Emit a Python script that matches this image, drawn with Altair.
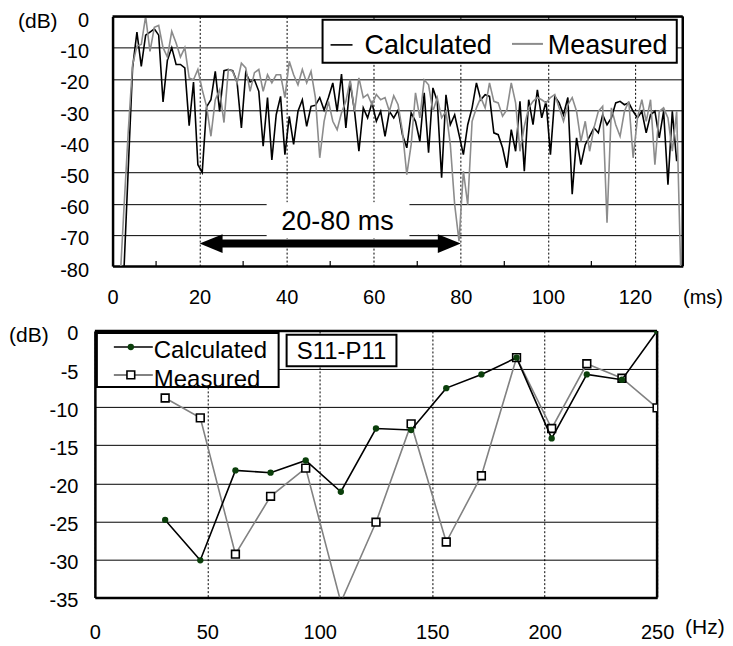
import altair as alt
import pandas as pd

FONT = "Liberation Sans"

# ---------------- top panel: level (dB) vs time (ms), one sample per ms ----------------
series_names = ["Calculated", "Measured"]
first_sample_ms = -0.4

calc_db = [
    -110, -110, -110, -82, -49, -16.5, -5, -16, -6, -5,
    -4, -6, -27.4, -14, -10, -15.4, -15.4, -16.5, -35, -21,
    -47.5, -50, -29, -26.7, -17.6, -30.4, -17.4, -17, -17.4, -21,
    -35.7, -18, -21, -20.3, -24, -41.6, -26, -46, -31.5, -25.6,
    -44.3, -32, -41, -30.4, -26.7, -35.2, -28.8, -28.5, -26, -30,
    -26, -21.3, -30.4, -18.5, -35.7, -21.3, -30.4, -43.2, -29.3, -32.5,
    -27.7, -33.6, -30.4, -38.4, -30.4, -32.5, -30, -37.9, -42.1, -30.9,
    -33.6, -40, -24.5, -43.7, -22.9, -27.2, -51.7, -25.1, -34.7, -31.5,
    -37.9, -44.3, -34.7, -29.3, -21.3, -26.7, -25.1, -25.6, -37.3, -37.9,
    -42.1, -48.5, -36.3, -43.2, -27.2, -49.6, -26.7, -34.7, -23.5, -32.5,
    -27.2, -44.3, -25.6, -27.7, -31.5, -26, -57, -38.9, -47.5, -41.1,
    -38.4, -35.7, -37.3, -31.5, -34.7, -32.5, -27.7, -27.2, -28.3, -27.7,
    -30.4, -32.5, -30.4, -37.3, -31.5, -30.4, -38.9, -30.4, -53.9, -30.4,
    -46.4,
]

meas_db = [
    -100, -100, -88, -62, -37, -15.5, -9.5, -9, 0, -11.2,
    -3.5, -2.9, -10, -13, -4.8, -8.5, -13, -10, -19.7, -20.3,
    -17, -23.5, -28.8, -38.4, -26.7, -23.5, -34, -17, -17.6, -21.3,
    -15, -16.5, -24, -18, -17, -24, -18.7, -21.3, -18.7, -18.7,
    -26, -14.4, -18.7, -21.9, -17, -21.3, -17.6, -26, -45.3, -33.6,
    -27.2, -33.6, -36.3, -30.9, -27.2, -20.3, -30.4, -19.7, -26, -25,
    -28.3, -25, -26.7, -26, -30.4, -25.4, -28.3, -36.8, -50.7, -41.1,
    -24.5, -32.5, -20.3, -21.9, -30.4, -26, -32.5, -30.4, -41, -60.3,
    -72, -49.6, -60.3, -33.6, -29.3, -26, -29.3, -21.3, -27.2, -27.7,
    -32, -29.9, -21.3, -27.7, -43.2, -35.2, -29.3, -27.2, -26, -26.7,
    -27.7, -26, -25, -29.3, -33.6, -28.3, -26, -30.4, -40, -33.6,
    -43.2, -35.7, -30.4, -28.8, -66.1, -29.3, -34.7, -38.4, -30.4, -27.2,
    -45.3, -32.5, -26.7, -33.6, -26.7, -47.5, -30.4, -29.3, -32.5, -43.2,
    -30.4, -85,
]

time_domain = [0, 131]
db_domain_top = [-80, 0]
time_ticks = [0, 20, 40, 60, 80, 100, 120]
time_minor_ticks = [10, 30, 50, 70, 90, 110]
db_ticks_top = [-80, -70, -60, -50, -40, -30, -20, -10, 0]
span_ms = [20, 80]
span_db = -72.8
span_label = "20-80 ms"

# ---------------- bottom panel: level (dB) vs frequency (Hz) ----------------
freq_hz = [31.25, 46.875, 62.5, 78.125, 93.75, 109.375, 125, 140.625,
           156.25, 171.875, 187.5, 203.125, 218.75, 234.375, 250]
calc_spec = [-24.8, -30.1, -18.3, -18.6, -17.0, -21.1, -12.8, -13.0,
             -7.5, -5.7, -3.5, -14.1, -5.7, -6.4, 0.0]
meas_spec = [-8.8, -11.4, -29.3, -21.7, -18.0, -35.6, -25.1, -12.2,
             -27.7, -19.0, -3.5, -12.8, -4.3, -6.2, -10.1]
freq_domain = [0, 250]
db_domain_bot = [-35, 0]
freq_ticks = [0, 50, 100, 150, 200, 250]
db_ticks_bottom = [-35, -30, -25, -20, -15, -10, -5, 0]
case_label = "S11-P11"

GREY_TOP = "#8c8c8c"
GREY_BOT = "#828282"
DARK_GREEN = "#0b3f0b"

# ---------------- data frames ----------------
top_df = pd.concat([
    pd.DataFrame({"t": [first_sample_ms + i for i in range(len(calc_db))],
                  "db": calc_db, "series": series_names[0]}),
    pd.DataFrame({"t": [first_sample_ms + i for i in range(len(meas_db))],
                  "db": meas_db, "series": series_names[1]}),
])
minor_df = pd.DataFrame({"t": time_minor_ticks})
span_df = pd.DataFrame({"x1": [span_ms[0]], "x2": [span_ms[1]], "y": [span_db]})
one = pd.DataFrame({"a": [0]})
frame_top = pd.DataFrame({"x1": [time_domain[0]], "x2": [time_domain[1]],
                          "y1": [db_domain_top[0]], "y2": [db_domain_top[1]]})
frame_bot = pd.DataFrame({"x1": [freq_domain[0]], "x2": [freq_domain[1]],
                          "y1": [db_domain_bot[0]], "y2": [db_domain_bot[1]]})

bot_calc = pd.DataFrame({"f": freq_hz, "db": calc_spec})
bot_meas = pd.DataFrame({"f": freq_hz, "db": meas_spec})


def axis(values, pad, **kw):
    return alt.Axis(values=values, tickCount=60, grid=True, gridColor="black",
                    gridOpacity=1, gridWidth=1, ticks=False, tickSize=0,
                    labelPadding=pad, labelOverlap=False, domainWidth=2.5,
                    domainColor="black", labelExpr="toString(datum.value)",
                    labelFont=FONT, labelFontSize=20, labelColor="black", **kw)


# ---------------- top panel ----------------
SHIFT = 17.7          # the top plot starts this far right of the bottom one
TW, TH = 571 + SHIFT, 250
xs_top = alt.Scale(domain=time_domain, range=[SHIFT, TW], nice=False, zero=False)
ys_top = alt.Scale(domain=db_domain_top, nice=False, zero=False)

x_top = alt.X("t:Q", scale=xs_top, title=None,
              axis=axis(time_ticks, 21, gridDash=[2, 2], labelFlush=False))
y_top = alt.Y("db:Q", scale=ys_top, title=None,
              axis=axis(db_ticks_top, 24, labelOffset=4, offset=-SHIFT))

pin_top = alt.Chart(one).mark_rule(color="white", strokeWidth=1).encode(
    x=alt.value(-86), y=alt.value(-7), y2=alt.value(295))

lines_top = alt.Chart(top_df).mark_line(strokeWidth=1.6, clip=True).encode(
    x=x_top, y=y_top,
    color=alt.Color("series:N", scale=alt.Scale(domain=series_names,
                                                range=["black", GREY_TOP]),
                    legend=None),
    detail="series:N",
)

border_top_h = alt.Chart(frame_top).mark_rule(color="black", strokeWidth=2.5).encode(
    x=alt.X("x1:Q", scale=xs_top), x2="x2:Q", y=alt.Y("y2:Q", scale=ys_top))
border_top_v = alt.Chart(frame_top).mark_rule(color="black", strokeWidth=2.5).encode(
    x=alt.X("x2:Q", scale=xs_top), y=alt.Y("y1:Q", scale=ys_top), y2="y2:Q")

minor_top = alt.Chart(minor_df).mark_rule(color="black", strokeWidth=1.2).encode(
    x=alt.X("t:Q", scale=xs_top), y=alt.value(TH - 5), y2=alt.value(TH))

span_box = alt.Chart(one).mark_rect(color="white").encode(
    x=alt.value(172), x2=alt.value(315), y=alt.value(186), y2=alt.value(222))
span_text = alt.Chart(one).mark_text(
    text=span_label, font=FONT, fontSize=27, align="center", baseline="alphabetic",
    color="black").encode(x=alt.value(243), y=alt.value(214))
span_shaft = alt.Chart(span_df).mark_rule(
    color="black", strokeWidth=8, xOffset=18, x2Offset=-18).encode(
    x=alt.X("x1:Q", scale=xs_top), x2="x2:Q", y=alt.Y("y:Q", scale=ys_top))
head_left = alt.Chart(span_df).mark_point(
    shape="M -1 0 L 1 -0.82 L 1 0.82 Z", size=529, filled=True, color="black",
    opacity=1, xOffset=11.5).encode(
    x=alt.X("x1:Q", scale=xs_top), y=alt.Y("y:Q", scale=ys_top))
head_right = alt.Chart(span_df).mark_point(
    shape="M 1 0 L -1 -0.82 L -1 0.82 Z", size=529, filled=True, color="black",
    opacity=1, xOffset=-11.5).encode(
    x=alt.X("x2:Q", scale=xs_top), y=alt.Y("y:Q", scale=ys_top))

# legend (top)
leg_box = alt.Chart(one).mark_rect(fill="white", stroke="black", strokeWidth=2).encode(
    x=alt.value(228), x2=alt.value(582.7), y=alt.value(3.3), y2=alt.value(46.5))
leg_l1 = alt.Chart(one).mark_rule(color="black", strokeWidth=1.6).encode(
    x=alt.value(236), x2=alt.value(258), y=alt.value(28.5))
leg_t1 = alt.Chart(one).mark_text(
    text=series_names[0], font=FONT, fontSize=27, align="left",
    baseline="alphabetic", color="black").encode(x=alt.value(270), y=alt.value(38))
leg_l2 = alt.Chart(one).mark_rule(color=GREY_TOP, strokeWidth=2).encode(
    x=alt.value(417.7), x2=alt.value(448.7), y=alt.value(27.5))
leg_t2 = alt.Chart(one).mark_text(
    text=series_names[1], font=FONT, fontSize=27, align="left",
    baseline="alphabetic", color="black").encode(x=alt.value(453.5), y=alt.value(38))

unit_db_top = alt.Chart(one).mark_text(
    text="(dB)", font=FONT, fontSize=21, align="left", baseline="middle",
    color="black").encode(x=alt.value(-77), y=alt.value(6))
unit_ms = alt.Chart(one).mark_text(
    text="(ms)", font=FONT, fontSize=20, align="left", baseline="middle",
    color="black").encode(x=alt.value(589), y=alt.value(282))

top = alt.layer(
    pin_top, lines_top, border_top_h, border_top_v, minor_top, span_box,
    span_text, span_shaft, head_left, head_right, leg_box, leg_l1, leg_t1,
    leg_l2, leg_t2, unit_db_top, unit_ms,
).properties(width=TW, height=TH)

# ---------------- bottom panel ----------------
BW, BH = 563, 267
xs_bot = alt.Scale(domain=freq_domain, nice=False, zero=False)
ys_bot = alt.Scale(domain=db_domain_bot, nice=False, zero=False)

x_bot = alt.X("f:Q", scale=xs_bot, title=None,
              axis=axis(freq_ticks, 25, gridDash=[2, 2], labelFlush=False))
y_bot = alt.Y("db:Q", scale=ys_bot, title=None,
              axis=axis(db_ticks_bottom, 17, labelOffset=3))

pin_bot = alt.Chart(one).mark_rule(color="white", strokeWidth=1).encode(
    x=alt.value(-86), y=alt.value(-18), y2=alt.value(200))

border_bot_h = alt.Chart(frame_bot).mark_rule(color="black", strokeWidth=2.5).encode(
    x=alt.X("x1:Q", scale=xs_bot), x2="x2:Q", y=alt.Y("y2:Q", scale=ys_bot))
border_bot_v = alt.Chart(frame_bot).mark_rule(color="black", strokeWidth=2.5).encode(
    x=alt.X("x2:Q", scale=xs_bot), y=alt.Y("y1:Q", scale=ys_bot), y2="y2:Q")

meas_line = alt.Chart(bot_meas).mark_line(color=GREY_BOT, strokeWidth=1.6, clip=True).encode(
    x=x_bot, y=y_bot)
meas_pts = alt.Chart(bot_meas).mark_point(
    shape="square", size=60, filled=True, fill="white", stroke="black",
    strokeWidth=1.6, opacity=1, clip=True).encode(
    x=alt.X("f:Q", scale=xs_bot), y=alt.Y("db:Q", scale=ys_bot))
calc_line = alt.Chart(bot_calc).mark_line(color="black", strokeWidth=1.6, clip=True).encode(
    x=alt.X("f:Q", scale=xs_bot), y=alt.Y("db:Q", scale=ys_bot))
calc_pts = alt.Chart(bot_calc).mark_point(
    shape="circle", size=40, filled=True, color=DARK_GREEN, opacity=1,
    clip=True).encode(
    x=alt.X("f:Q", scale=xs_bot), y=alt.Y("db:Q", scale=ys_bot))

leg2_fill = alt.Chart(one).mark_rect(fill="white").encode(
    x=alt.value(2), x2=alt.value(184), y=alt.value(2), y2=alt.value(56))
leg2_l1 = alt.Chart(one).mark_rule(color="black", strokeWidth=1.6).encode(
    x=alt.value(19), x2=alt.value(58), y=alt.value(16))
leg2_p1 = alt.Chart(one).mark_point(
    shape="circle", size=40, filled=True, color=DARK_GREEN, opacity=1).encode(
    x=alt.value(36), y=alt.value(16))
leg2_t1 = alt.Chart(one).mark_text(
    text=series_names[0], font=FONT, fontSize=24, align="left",
    baseline="alphabetic", color="black").encode(x=alt.value(59), y=alt.value(27))
leg2_l2 = alt.Chart(one).mark_rule(color=GREY_BOT, strokeWidth=2).encode(
    x=alt.value(19), x2=alt.value(58), y=alt.value(44))
leg2_p2 = alt.Chart(one).mark_point(
    shape="square", size=60, filled=True, fill="white", stroke="black",
    strokeWidth=1.6, opacity=1).encode(x=alt.value(36), y=alt.value(44))
leg2_t2 = alt.Chart(one).mark_text(
    text=series_names[1], font=FONT, fontSize=24, align="left",
    baseline="alphabetic", color="black").encode(x=alt.value(59), y=alt.value(56))
leg2_border = alt.Chart(one).mark_rect(fillOpacity=0, stroke="black",
                                       strokeWidth=2).encode(
    x=alt.value(2), x2=alt.value(184), y=alt.value(2), y2=alt.value(56))

case_box = alt.Chart(one).mark_rect(fill="white", stroke="black", strokeWidth=2).encode(
    x=alt.value(192), x2=alt.value(302), y=alt.value(3.7), y2=alt.value(35.3))
case_text = alt.Chart(one).mark_text(
    text=case_label, font=FONT, fontSize=24, align="center", baseline="alphabetic",
    color="black").encode(x=alt.value(247), y=alt.value(28.5))

unit_db_bot = alt.Chart(one).mark_text(
    text="(dB)", font=FONT, fontSize=21, align="left", baseline="middle",
    color="black").encode(x=alt.value(-86), y=alt.value(5))
unit_hz = alt.Chart(one).mark_text(
    text="(Hz)", font=FONT, fontSize=21, align="left", baseline="middle",
    color="black").encode(x=alt.value(591), y=alt.value(297))

bottom = alt.layer(
    pin_bot, border_bot_h, border_bot_v, meas_line, meas_pts, calc_line, calc_pts,
    leg2_fill, leg2_l1, leg2_p1, leg2_t1, leg2_l2, leg2_p2, leg2_t2, leg2_border,
    case_box, case_text, unit_db_bot, unit_hz,
).properties(width=BW, height=BH)

chart = alt.vconcat(top, bottom, spacing=0).properties(
    padding={"left": 0, "top": 0, "right": 0, "bottom": 0}
).configure_view(
    strokeWidth=0
)

chart.save("out.html", embed_options={"renderer": "svg", "actions": False})
